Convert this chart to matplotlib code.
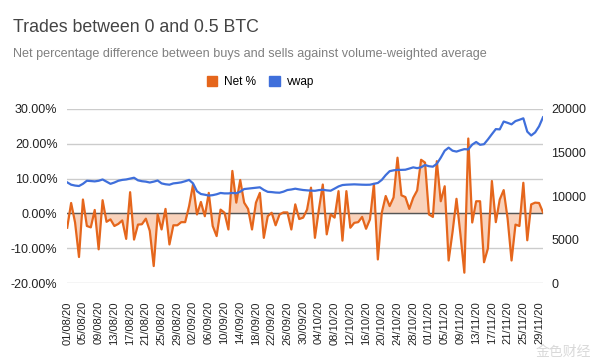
import matplotlib
matplotlib.use('Agg')
import matplotlib.pyplot as plt
import matplotlib.ticker as ticker
from matplotlib.patches import Patch
import numpy as np
import pandas as pd

plt.rcParams['font.family'] = ['Liberation Sans', 'DejaVu Sans']

dates = pd.date_range('2020-08-01', '2020-11-30', freq='D')

net_pct = [-4.1, 3.0, -2.6, -12.5, 4.0, -3.6, -4.0, 1.0, -10.3, 3.8,
           -2.4, -1.7, -3.6, -3.0, -2.0, -7.3, 6.1, -7.5, -3.2, -3.1,
           -1.5, -5.0, -15.1, -0.3, -4.6, 1.3, -8.9, -3.4, -3.4, -2.5,
           -2.5, 2.1, 8.3, -0.3, 3.3, -0.8, 5.9, -3.6, -6.5, 1.1,
           0.2, -4.6, 12.2, 3.1, 9.6, 3.1, 1.3, -4.6, 3.1, 5.9,
           -7.0, -0.8, 0.2, -3.4, -0.3, 0.3, 0.3, -4.6, 2.6, -1.6,
           -1.2, 1.1, 7.4, -7.0, 1.1, 8.3, -6.0, -0.3, -1.2, 6.4,
           -7.8, 6.4, -4.1, -2.7, -2.5, -1.0, -4.4, -1.7, 8.5, -13.2,
           0.2, 5.0, 2.1, 4.6, 16.0, 5.2, 4.7, 1.3, 4.5, 6.6,
           15.4, 14.6, -0.3, -1.0, 15.0, 3.5, 7.8, -13.5, -5.3, 4.2,
           -6.0, -17.0, 21.5, -2.6, 3.5, 3.5, -14.0, -10.0, 9.3, -2.5,
           4.0, 6.7, -1.5, -13.5, -3.2, -3.6, 8.8, -7.7, 2.6, 3.1,
           3.0, 0.3]

vwap = [11570, 11300, 11200, 11150, 11400, 11750, 11720, 11680, 11750, 11900,
        11650, 11400, 11550, 11750, 11850, 11900, 12000, 12100, 11800, 11700,
        11650, 11550, 11650, 11780, 11450, 11350, 11300, 11450, 11500, 11570,
        11700, 11850, 11450, 10550, 10230, 10150, 10050, 10100, 10200, 10350,
        10300, 10300, 10350, 10320, 10500, 10800, 10850, 10900, 10950, 11000,
        10700, 10480, 10450, 10400, 10380, 10500, 10690, 10750, 10840, 10760,
        10690, 10650, 10620, 10600, 10680, 10720, 10650, 10610, 10850, 11100,
        11260, 11300, 11320, 11340, 11320, 11300, 11290, 11300, 11400, 11500,
        11850, 12400, 12850, 12950, 13000, 13000, 13020, 13150, 13290, 13200,
        13300, 13560, 13420, 13370, 13700, 14400, 15200, 15550, 15200, 15100,
        15250, 15380, 15350, 15900, 16200, 15880, 15950, 16500, 17100, 17680,
        17650, 18550, 18400, 18230, 18600, 18750, 18920, 17390, 16950, 17300,
        18000, 19040]

orange = '#e5661c'
blue = '#3f6fdb'
grid = '#cccccc'

net = np.array(net_pct) / 100.0

fig = plt.figure(figsize=(6, 3.63), dpi=100)
ax = fig.add_axes([0.112, 0.22, 0.793, 0.48])
ax2 = ax.twinx()

ax.fill_between(dates, net, 0, color='#f7c4a4', alpha=0.75, lw=0)
ax.axhline(0, color='#555555', lw=1.0, zorder=2)
ax.plot(dates, net, color=orange, lw=1.6, zorder=3)
ax2.plot(dates, vwap, color=blue, lw=1.6)

ax.set_ylim(-0.2, 0.3)
ax2.set_ylim(0, 20000)
ax.set_xlim(dates[0], dates[-1])
ax.set_yticks(np.arange(-0.2, 0.31, 0.1))
ax.yaxis.set_major_formatter(ticker.FuncFormatter(lambda v, p: '%.2f%%' % (v * 100)))
ax2.set_yticks([0, 5000, 10000, 15000, 20000])
ax.grid(axis='y', color=grid, lw=1.0)
ax.set_axisbelow(True)

ax.set_xticks(dates[::4])
ax.set_xticklabels([d.strftime('%d/%m/%y') for d in dates[::4]], rotation=90)

for a in (ax, ax2):
    for s in a.spines.values():
        s.set_visible(False)
    a.tick_params(length=0, labelsize=9, colors='#222222')
ax.tick_params(axis='y', pad=7)
ax2.tick_params(axis='y', pad=6)
ax.tick_params(axis='x', labelsize=8, pad=13)

fig.text(0.022, 0.925, 'Trades between 0 and 0.5 BTC', fontsize=12.8, color='#444444',
         va='center')
fig.text(0.022, 0.850, 'Net percentage difference between buys and sells against volume-weighted average',
         fontsize=9.1, color='#808080', va='center')

handles = [Patch(color=orange), Patch(color=blue)]
fig.legend(handles, ['Net %', 'vwap'], loc='center', bbox_to_anchor=(0.434, 0.775),
           ncol=2, frameon=False, fontsize=8.5, handlelength=0.9, handleheight=0.9,
           columnspacing=1.1, handletextpad=0.6)

fig.text(0.985, 0.012, '金色财经', fontsize=10, color='#d0d0d0', ha='right', va='bottom',
         family=['Noto Sans CJK SC', 'DejaVu Sans'], alpha=0.8)

fig.savefig('out.png', dpi=100)
